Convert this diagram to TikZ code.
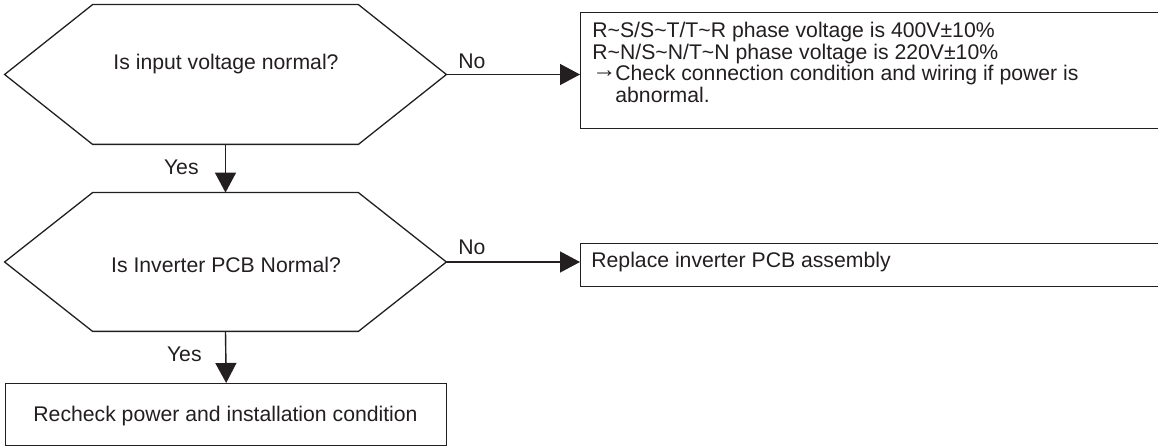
\documentclass[tikz,border=0pt]{standalone}
\usepackage{fontspec}
\setmainfont{Liberation Sans}
\usetikzlibrary{arrows.meta}
\definecolor{ink}{RGB}{35,31,32}
\begin{document}
\begin{tikzpicture}[x=0.5pt,y=-0.5pt,
  every node/.style={text=ink, font=\fontsize{10.6}{10.9}\selectfont},
  frame/.style={draw=ink, line width=0.7pt, rectangle, inner sep=0pt},
  hexframe/.style={draw=none, rectangle, inner sep=0pt, minimum width=220.5pt},
  hexline/.style={draw=ink, line width=0.65pt, line join=miter},
  conn/.style={draw=ink, line width=0.7pt, -{Triangle[length=10pt,width=10.5pt]}},
  lbl/.style={inner sep=0pt}
]
\useasboundingbox (0,0) rectangle (1158,448);

% decision 1
\node[hexframe, minimum height=69.5pt] (q1) at (225.5,74.5) {};
\draw[hexline] (q1.west) -- ([xshift=44pt]q1.north west) -- ([xshift=-44pt]q1.north east)
  -- (q1.east) -- ([xshift=-44pt]q1.south east) -- ([xshift=44pt]q1.south west) -- cycle;
\node[lbl, anchor=base] (q1t) at (226,69.5) {Is input voltage normal?};

% decision 2
\node[hexframe, minimum height=69pt] (q2) at (225.5,262) {};
\draw[hexline] (q2.west) -- ([xshift=44pt]q2.north west) -- ([xshift=-44pt]q2.north east)
  -- (q2.east) -- ([xshift=-44pt]q2.south east) -- ([xshift=44pt]q2.south west) -- cycle;
\node[lbl, anchor=base] (q2t) at (226,273) {Is Inverter PCB Normal?};

% box 1
\node[frame, anchor=north west, minimum width=291.5pt, minimum height=58pt] (b1) at (580,12) {};
\node[lbl, anchor=north west, align=left] (b1t) at (592,21.5)
  {R\textasciitilde S/S\textasciitilde T/T\textasciitilde R phase voltage is 400V±10\%\\
   R\textasciitilde N/S\textasciitilde N/T\textasciitilde N phase voltage is 220V±10\%\\
   \makebox[11.5pt][l]{\raisebox{1.6pt}{\fontsize{12}{12}\selectfont →}}Check connection condition and wiring if power is\\
   \hspace*{11.5pt}abnormal.};

% box 2
\node[frame, anchor=north west, minimum width=291.5pt, minimum height=21.5pt] (b2) at (580,243) {};
\node[lbl, anchor=base west] (b2t) at (591,268) {Replace inverter PCB assembly};

% box 3
\node[frame, anchor=north west, minimum width=220.5pt, minimum height=31pt] (b3) at (5,383) {};
\node[lbl, anchor=base] (b3t) at (225.5,422) {Recheck power and installation condition};

% connectors
\draw[conn] (q1.east) -- (q1.east -| b1.west);
\draw[conn] (q2.east) -- (q2.east -| b2.west);
\draw[conn] (q1.south) -- (q2.north);
\draw[conn] (q2.south) -- (b3.north);

% labels
\node[lbl, anchor=base west] (n1) at (458,68.6) {No};
\node[lbl, anchor=base west] (n2) at (458,255) {No};
\node[lbl, anchor=base east] (y1) at (199,174.6) {Yes};
\node[lbl, anchor=base east] (y2) at (202,361.6) {Yes};
\end{tikzpicture}
\end{document}
